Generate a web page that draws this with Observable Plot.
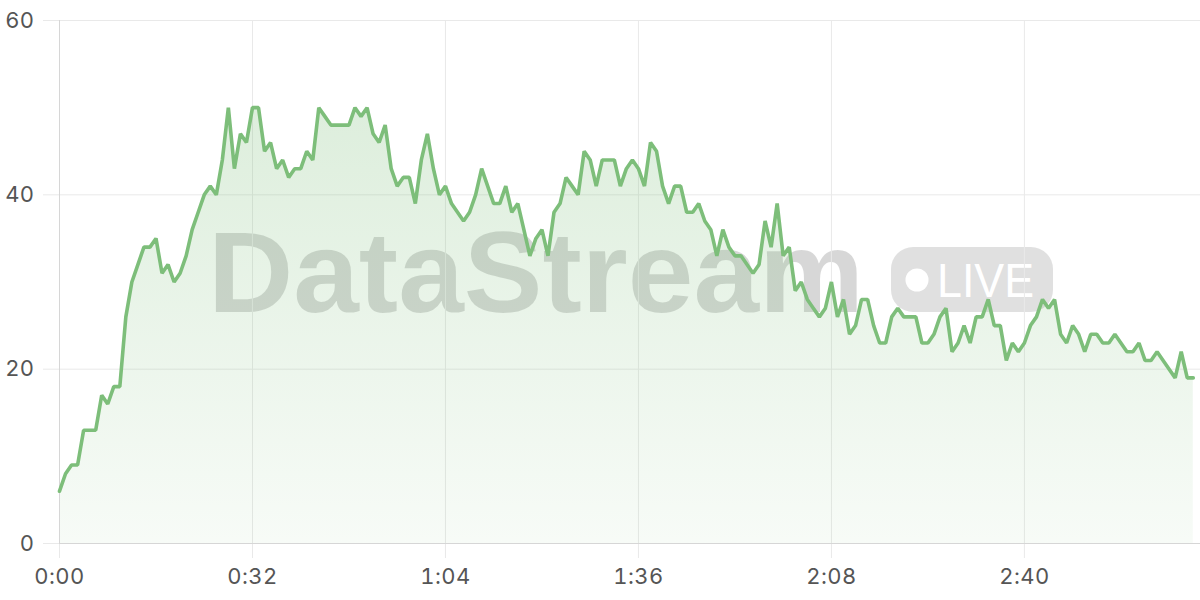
<!DOCTYPE html>
<html><head><meta charset="utf-8">
<script src="https://cdn.jsdelivr.net/npm/d3@7"></script>
<script src="https://cdn.jsdelivr.net/npm/@observablehq/plot@0.6"></script>
<style>
html,body{margin:0;padding:0;background:#fff;}
#wrap{position:relative;width:1200px;height:600px;overflow:hidden;}
#wm{position:absolute;left:0;top:0;z-index:0;}
#chart{position:absolute;left:0;top:0;z-index:1;}
</style></head><body>
<div id="wrap">
<svg id="wm" width="1200" height="600" xmlns="http://www.w3.org/2000/svg">
  <text x="208" y="312" font-family="Liberation Sans, Arial, sans-serif" font-weight="bold" font-size="115" fill="rgba(0,0,0,0.155)" textLength="656" lengthAdjust="spacingAndGlyphs">DataStream</text>
  <rect x="891" y="247" width="162" height="65" rx="22" ry="22" fill="rgba(0,0,0,0.12)"></rect>
  <circle cx="917" cy="280" r="11.5" fill="#fff"></circle>
  <text x="937" y="297" font-family="Liberation Sans, Arial, sans-serif" font-size="48" fill="#fff" textLength="97" lengthAdjust="spacingAndGlyphs">LIVE</text>
</svg>
<div id="chart"></div>
</div>
<script>
const values = [
  6, 8, 9, 9, 13, 13, 13, 17, 16, 18,
  18, 26, 30, 32, 34, 34, 35, 31, 32, 30,
  31, 33, 36, 38, 40, 41, 40, 44, 50, 43,
  47, 46, 50, 50, 45, 46, 43, 44, 42, 43,
  43, 45, 44, 50, 49, 48, 48, 48, 48, 50,
  49, 50, 47, 46, 48, 43, 41, 42, 42, 39,
  44, 47, 43, 40, 41, 39, 38, 37, 38, 40,
  43, 41, 39, 39, 41, 38, 39, 36, 33, 35,
  36, 33, 38, 39, 42, 41, 40, 45, 44, 41,
  44, 44, 44, 41, 43, 44, 43, 41, 46, 45,
  41, 39, 41, 41, 38, 38, 39, 37, 36, 33,
  36, 34, 33, 33, 32, 31, 32, 37, 34, 39,
  33, 34, 29, 30, 28, 27, 26, 27, 30, 26,
  28, 24, 25, 28, 28, 25, 23, 23, 26, 27,
  26, 26, 26, 23, 23, 24, 26, 27, 22, 23,
  25, 23, 26, 26, 28, 25, 25, 21, 23, 22,
  23, 25, 26, 28, 27, 28, 24, 23, 25, 24,
  22, 24, 24, 23, 23, 24, 23, 22, 22, 23,
  21, 21, 22, 21, 20, 19, 22, 19, 19
];
const seconds = values.map((_, i) => i);
const xTicks = [0, 32, 64, 96, 128, 160];
const xTickLabels = ["0:00", "0:32", "1:04", "1:36", "2:08", "2:40"];
const yTicks = [0, 20, 40, 60];

const data = values.map((v, i) => ({t: seconds[i], v}));
const gridColor = "#e9e9e9";
const labelColor = "#555";

const plot = Plot.plot({
  width: 1200, height: 600,
  marginLeft: 59, marginRight: 0, marginTop: 20, marginBottom: 57,
  style: {background: "transparent", fontFamily: "Inter, sans-serif", fontSize: "22px", color: labelColor, letterSpacing: "0.4px"},
  x: {domain: [0, 189.2], label: null},
  y: {domain: [0, 60], label: null},
  marks: [
    Plot.gridY(yTicks, {stroke: gridColor, strokeOpacity: 1}),
    Plot.gridX(xTicks, {stroke: gridColor, strokeOpacity: 1}),
    Plot.areaY(data, {x: "t", y: "v", fill: "url(#areaGrad)"}),
    Plot.axisY(yTicks, {tickSize: 16, tickPadding: 9, stroke: gridColor, strokeOpacity: 1, fill: labelColor, fontSize: 22, label: null}),
    Plot.axisX(xTicks, {tickSize: 15, tickPadding: 10, stroke: gridColor, strokeOpacity: 1, fill: labelColor, fontSize: 22, label: null,
      tickFormat: d => xTickLabels[xTicks.indexOf(d)]}),
    Plot.ruleY([0], {stroke: "#d6d6d6"}),
    Plot.ruleX([0], {stroke: "#d6d6d6"}),
    Plot.lineY(data, {x: "t", y: "v", stroke: "#7dbe7a", strokeWidth: 3.6, strokeLinejoin: "miter"})
  ]
});

const NS = "http://www.w3.org/2000/svg";
const defs = document.createElementNS(NS, "defs");
const grad = document.createElementNS(NS, "linearGradient");
grad.setAttribute("id", "areaGrad");
grad.setAttribute("x1", "0"); grad.setAttribute("y1", "0");
grad.setAttribute("x2", "0"); grad.setAttribute("y2", "1");
[["0", 0.26], ["1", 0.06]].forEach(([o, a]) => {
  const s = document.createElementNS(NS, "stop");
  s.setAttribute("offset", o);
  s.setAttribute("stop-color", "#7dbe7a");
  s.setAttribute("stop-opacity", a);
  grad.appendChild(s);
});
defs.appendChild(grad);
plot.insertBefore(defs, plot.firstChild);
document.getElementById("chart").appendChild(plot);
</script>
</body></html>
